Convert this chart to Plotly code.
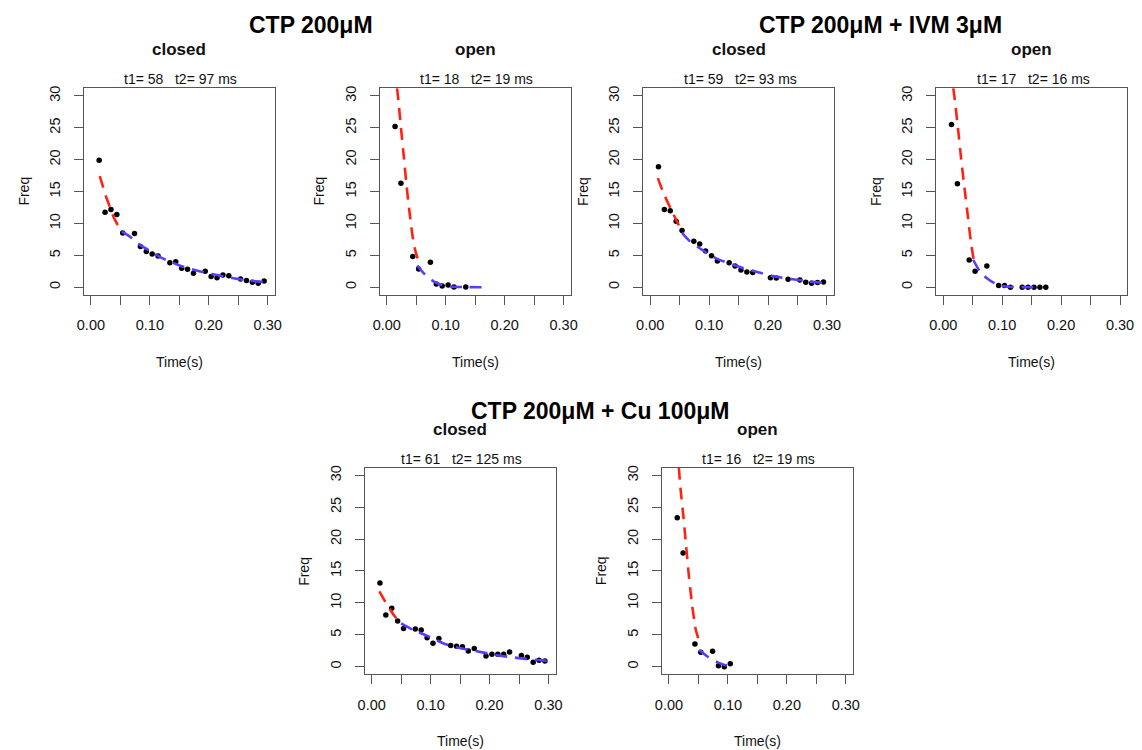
import plotly.graph_objects as go

# ---------------- data ----------------
GROUP_TITLES = ["CTP 200μM", "CTP 200μM + IVM 3μM", "CTP 200μM + Cu 100μM"]
PANEL_TITLES = ["closed", "open", "closed", "open", "closed", "open"]
PANEL_SUBTITLES = ["t1= 58   t2= 97 ms", "t1= 18   t2= 19 ms",
                   "t1= 59   t2= 93 ms", "t1= 17   t2= 16 ms",
                   "t1= 61   t2= 125 ms", "t1= 16   t2= 19 ms"]
X_TICKS = [0.0, 0.05, 0.10, 0.15, 0.20, 0.25, 0.30]
X_TICK_LABELS = ["0.00", "", "0.10", "", "0.20", "", "0.30"]
Y_TICKS = [0, 5, 10, 15, 20, 25, 30]
Y_TICK_LABELS = ["0", "5", "10", "15", "20", "25", "30"]

# panel 1: CTP closed
P1_T = [0.014, 0.024, 0.034, 0.044, 0.054, 0.074, 0.084, 0.094, 0.104, 0.114, 0.134, 0.144, 0.154,
        0.164, 0.174, 0.194, 0.204, 0.214, 0.224, 0.234, 0.254, 0.264, 0.274, 0.284, 0.294]
P1_F = [19.9, 11.75, 12.2, 11.4, 8.5, 8.4, 6.4, 5.6, 5.2, 4.9, 3.85, 4.0, 2.96,
        2.8, 2.2, 2.5, 1.66, 1.5, 1.9, 1.8, 1.3, 1.04, 0.78, 0.62, 0.99]
P1_RED_T = [0.015, 0.021, 0.025, 0.032, 0.039, 0.046, 0.053]
P1_RED_F = [17.4, 15.6, 14.4, 12.6, 10.9, 9.7, 8.7]
P1_BLUE_T = [0.053, 0.065, 0.084, 0.098, 0.120, 0.154, 0.193, 0.226, 0.260, 0.305]
P1_BLUE_F = [8.7, 8.0, 6.6, 5.8, 4.6, 3.3, 2.3, 1.7, 1.12, 0.72]

# panel 2: CTP open
P2_T = [0.014, 0.024, 0.044, 0.054, 0.074, 0.084, 0.094, 0.104, 0.114, 0.134]
P2_F = [25.2, 16.3, 4.8, 2.86, 3.9, 0.52, 0.2, 0.36, 0.05, 0.05]
P2_RED_T = [0.0174, 0.0196, 0.024, 0.029, 0.0336, 0.039, 0.045, 0.049, 0.054]
P2_RED_F = [31.2, 29.3, 25.0, 20.3, 15.8, 11.4, 7.2, 5.5, 4.0]
P2_BLUE_T = [0.0516, 0.0645, 0.080, 0.095, 0.112, 0.132, 0.167]
P2_BLUE_F = [3.4, 2.0, 0.88, 0.3, 0.08, 0.02, 0.0]

# panel 3: CTP + IVM closed
P3_T = [0.014, 0.024, 0.034, 0.044, 0.054, 0.074, 0.084, 0.094, 0.104, 0.114, 0.134, 0.144,
        0.154, 0.164, 0.174, 0.204, 0.214, 0.234, 0.254, 0.264, 0.274, 0.284, 0.294]
P3_F = [18.9, 12.2, 12.0, 10.35, 8.9, 7.2, 6.76, 5.67, 4.94, 4.1, 3.85, 3.33,
        2.7, 2.4, 2.29, 1.5, 1.46, 1.25, 1.14, 0.78, 0.62, 0.73, 0.83]
P3_RED_T = [0.013, 0.021, 0.0287, 0.037, 0.048, 0.056]
P3_RED_F = [17.1, 15.1, 13.5, 11.9, 9.8, 8.5]
P3_BLUE_T = [0.054, 0.066, 0.084, 0.110, 0.144, 0.177, 0.210, 0.245, 0.270, 0.300]
P3_BLUE_F = [8.5, 7.3, 6.1, 4.6, 3.4, 2.5, 1.7, 1.2, 0.88, 0.63]

# panel 4: CTP + IVM open
P4_T = [0.014, 0.024, 0.044, 0.054, 0.074, 0.094, 0.104, 0.114, 0.134, 0.144, 0.154, 0.164, 0.174]
P4_F = [25.5, 16.2, 4.26, 2.5, 3.33, 0.26, 0.26, 0.0, 0.0, 0.0, 0.0, 0.0, 0.0]
P4_RED_T = [0.017, 0.019, 0.025, 0.0305, 0.0367, 0.042, 0.047, 0.052]
P4_RED_F = [31.2, 29.8, 24.9, 20.0, 15.0, 10.9, 7.0, 4.1]
P4_BLUE_T = [0.0508, 0.062, 0.074, 0.0885, 0.103, 0.120, 0.165]
P4_BLUE_F = [4.3, 2.5, 1.4, 0.57, 0.16, 0.03, 0.0]

# panel 5: CTP + Cu closed
P5_T = [0.014, 0.024, 0.034, 0.044, 0.054, 0.074, 0.084, 0.094, 0.104, 0.114, 0.134, 0.144, 0.154,
        0.164, 0.174, 0.194, 0.204, 0.214, 0.224, 0.234, 0.254, 0.264, 0.274, 0.284, 0.294]
P5_F = [13.1, 8.1, 9.16, 7.17, 6.0, 5.9, 5.76, 4.55, 3.66, 4.4, 3.3, 3.2, 3.14,
        2.46, 2.83, 1.68, 1.94, 1.94, 1.94, 2.3, 1.73, 1.47, 0.68, 1.0, 0.89]
P5_RED_T = [0.013, 0.021, 0.031, 0.039, 0.050]
P5_RED_F = [11.8, 10.5, 9.0, 7.9, 6.8]
P5_BLUE_T = [0.050, 0.073, 0.089, 0.109, 0.123, 0.142, 0.162, 0.190, 0.212, 0.240, 0.262, 0.311]
P5_BLUE_F = [6.8, 5.65, 5.05, 4.2, 3.6, 3.05, 2.7, 2.2, 1.8, 1.45, 1.2, 0.84]

# panel 6: CTP + Cu open
P6_T = [0.014, 0.024, 0.044, 0.054, 0.074, 0.084, 0.094, 0.104]
P6_F = [23.35, 17.8, 3.56, 2.25, 2.4, 0.16, 0.0, 0.47]
P6_RED_T = [0.0167, 0.0195, 0.0245, 0.029, 0.034, 0.039, 0.043, 0.0457, 0.0536]
P6_RED_F = [31.2, 28.0, 23.5, 19.0, 14.0, 9.8, 7.2, 5.7, 3.3]
P6_BLUE_T = [0.0513, 0.067, 0.0825, 0.0987]
P6_BLUE_F = [2.6, 1.47, 0.68, 0.16]

PANELS = [
    (P1_T, P1_F, P1_RED_T, P1_RED_F, P1_BLUE_T, P1_BLUE_F),
    (P2_T, P2_F, P2_RED_T, P2_RED_F, P2_BLUE_T, P2_BLUE_F),
    (P3_T, P3_F, P3_RED_T, P3_RED_F, P3_BLUE_T, P3_BLUE_F),
    (P4_T, P4_F, P4_RED_T, P4_RED_F, P4_BLUE_T, P4_BLUE_F),
    (P5_T, P5_F, P5_RED_T, P5_RED_F, P5_BLUE_T, P5_BLUE_F),
    (P6_T, P6_F, P6_RED_T, P6_RED_F, P6_BLUE_T, P6_BLUE_F),
]

# ---------------- layout / style ----------------
PAGE_W, PAGE_H = 1142, 750
BODY_MARGIN = 8            # default page margin around the plot div
W, H = PAGE_W - BODY_MARGIN, PAGE_H - BODY_MARGIN
FONT = "Liberation Sans, Arial, Helvetica, sans-serif"
RED = "#ff2212"
BLUE = "#5a3cff"
AXIS_COLOR = "#555555"
TEXT_COLOR = "#111111"

# plot boxes in page pixels: left, right, top, bottom
BOXES = [
    (77.7, 271.0, 85.5, 293.0),
    (377.3, 570.6, 85.5, 293.0),
    (644.0, 837.3, 85.5, 293.0),
    (940.7, 1134.0, 85.5, 293.0),
    (362.0, 555.3, 466.5, 674.0),
    (663.0, 856.3, 466.5, 674.0),
]
TITLE_Y = [47.0, 47.0, 47.0, 47.0, 428.5, 428.5]
SUB_Y = [76.7, 76.7, 76.7, 76.7, 458.3, 458.3]
GROUP_POS = [(308, 22.0), (884, 22.5), (600, 409.5)]


def fx(px):
    return (px - BODY_MARGIN) / W


def fy(py):
    return 1 - (py - BODY_MARGIN) / H


def keep_spaces(s):
    # keep the runs of spaces visible in SVG text
    return s.replace("  ", "\u00a0\u00a0")


fig = go.Figure()
annotations = []

for i, (box, data) in enumerate(zip(BOXES, PANELS), start=1):
    t, f, rt, rf, bt, bf = data
    xa = "x" if i == 1 else f"x{i}"
    ya = "y" if i == 1 else f"y{i}"
    fig.add_trace(go.Scatter(x=t, y=f, mode="markers", xaxis=xa, yaxis=ya,
                             marker=dict(color="black", size=5.5), showlegend=False,
                             hoverinfo="x+y"))
    fig.add_trace(go.Scatter(x=rt, y=rf, mode="lines", xaxis=xa, yaxis=ya,
                             line=dict(color=RED, width=2.6, dash="12px,8px",
                                       shape="spline", smoothing=0.7),
                             showlegend=False))
    fig.add_trace(go.Scatter(x=bt, y=bf, mode="lines", xaxis=xa, yaxis=ya,
                             line=dict(color=BLUE, width=2.6, dash="12px,8px",
                                       shape="spline", smoothing=0.7),
                             showlegend=False))

    left, right, top, bottom = box
    common = dict(showline=True, mirror=True, linecolor=AXIS_COLOR, linewidth=1,
                  ticks="outside", ticklen=9, tickwidth=1, tickcolor=AXIS_COLOR,
                  showgrid=False, zeroline=False, fixedrange=True,
                  tickfont=dict(family=FONT, size=14.5, color=TEXT_COLOR))
    xkey = "xaxis" if i == 1 else f"xaxis{i}"
    ykey = "yaxis" if i == 1 else f"yaxis{i}"
    fig.update_layout({
        xkey: dict(domain=[fx(left), fx(right)], anchor=ya, range=[-0.012, 0.312],
                   tickmode="array", tickvals=X_TICKS, ticktext=X_TICK_LABELS,
                   ticklabelstandoff=8, **common),
        ykey: dict(domain=[fy(bottom), fy(top)], anchor=xa, range=[-1.2, 31.2],
                   tickmode="array", tickvals=Y_TICKS, ticktext=Y_TICK_LABELS,
                   tickangle=-90, ticklabelstandoff=8, **common),
    })

    cx = (left + right) / 2
    cy = (top + bottom) / 2
    annotations.append(dict(text=PANEL_TITLES[i - 1], x=fx(cx), y=fy(TITLE_Y[i - 1]),
                            xref="paper", yref="paper", showarrow=False,
                            xanchor="center", yanchor="middle",
                            font=dict(family=FONT, size=17, color=TEXT_COLOR, weight=700)))
    annotations.append(dict(text=keep_spaces(PANEL_SUBTITLES[i - 1]), x=fx(cx + 1.5),
                            y=fy(SUB_Y[i - 1]),
                            xref="paper", yref="paper", showarrow=False,
                            xanchor="center", yanchor="middle",
                            font=dict(family=FONT, size=14, color=TEXT_COLOR)))
    annotations.append(dict(text="Freq", x=fx(left - 61.5), y=fy(cy),
                            xref="paper", yref="paper", showarrow=False, textangle=-90,
                            xanchor="center", yanchor="middle",
                            font=dict(family=FONT, size=14, color=TEXT_COLOR)))
    annotations.append(dict(text="Time(s)", x=fx(cx), y=fy(bottom + 67),
                            xref="paper", yref="paper", showarrow=False,
                            xanchor="center", yanchor="middle",
                            font=dict(family=FONT, size=14, color=TEXT_COLOR)))

for title, (gx, gy) in zip(GROUP_TITLES, GROUP_POS):
    annotations.append(dict(text=title, x=fx(gx), y=fy(gy), xref="paper", yref="paper",
                            showarrow=False, xanchor="center", yanchor="middle",
                            font=dict(family=FONT, size=23, color="black", weight=700)))

fig.update_layout(
    width=W, height=H,
    margin=dict(l=0, r=0, t=0, b=0),
    paper_bgcolor="white", plot_bgcolor="white",
    annotations=annotations,
    showlegend=False,
)

fig.write_html("out.html")
